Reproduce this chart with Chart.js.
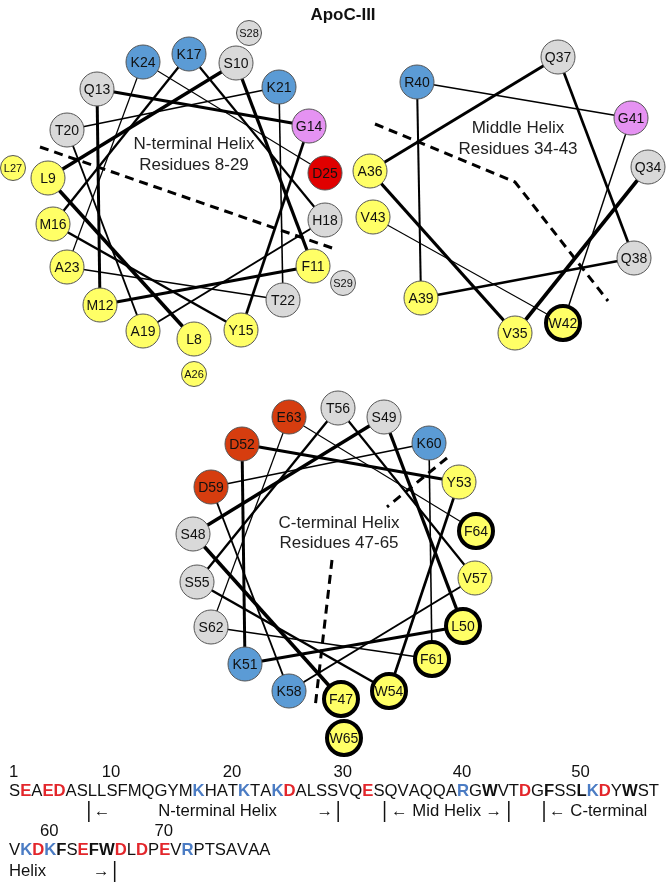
<html>
	<head>
		<meta charset="UTF-8">
		<title>ApoC-III helical wheels</title>
		<script src="https://cdn.jsdelivr.net/npm/chart.js@4.4.1/dist/chart.umd.min.js"></script>
		<style>
			body { margin: 0; background: #ffffff; }
			#wrap { width: 667px; height: 884px; position: relative; }
		</style>
	</head>
	<body>
		<div id="wrap"><canvas id="myChart"></canvas></div>
		<script type="text/javascript">

			// ---- data ----
			// N-terminal helix, residues 8-25 on the wheel, 26-29 on the outer ring
			var nHelixResidues = ['L8','L9','S10','F11','M12','Q13','G14','Y15','M16','K17','H18','A19','T20','K21','T22','A23','K24','D25'];
			var nHelixX = [194, 48, 236, 313, 100, 97, 309, 241, 53, 189, 325, 143, 67, 279, 283, 67, 143, 325];
			var nHelixY = [339, 178, 63, 266, 305, 89, 126, 330, 224, 54, 220, 331, 130, 87, 300, 267, 62, 173];
			var nOuterResidues = ['A26','L27','S28','S29'];
			var nOuterX = [194, 13, 249, 343];
			var nOuterY = [374, 168, 33, 283];
			var nDividerX = [40, 335];
			var nDividerY = [147, 249];

			// middle helix, residues 34-43
			var midHelixResidues = ['Q34','V35','A36','Q37','Q38','A39','R40','G41','W42','V43'];
			var midHelixX = [648, 515, 370, 558, 634, 421, 417, 631, 563, 373];
			var midHelixY = [167, 333, 171, 57, 258, 298, 82, 118, 323, 217];
			var midDividerX = [375, 515, 608];
			var midDividerY = [124, 182, 301];

			// C-terminal helix, residues 47-64 on the wheel, 65 on the outer ring
			var cHelixResidues = ['F47','S48','S49','L50','K51','D52','Y53','W54','S55','T56','V57','K58','D59','K60','F61','S62','E63','F64'];
			var cHelixX = [341, 193, 384, 463, 245, 242, 459, 389, 197, 338, 475, 289, 211, 429, 432, 211, 289, 476];
			var cHelixY = [699, 534, 417, 626, 664, 444, 482, 691, 582, 408, 578, 691, 487, 443, 659, 627, 417, 531];
			var cOuterResidues = ['W65'];
			var cOuterX = [344];
			var cOuterY = [738];
			var cDividerAX = [447, 387];
			var cDividerAY = [458, 507];
			var cDividerBX = [332, 315];
			var cDividerBY = [560, 708];

			// residues outlined in bold (hydrophobic face)
			var highlighted = [42, 47, 50, 54, 61, 64, 65];

			// full sequence, two printed lines
			var seqLine1 = 'SEAEDASLLSFMQGYMKHATKTAKDALSSVQESQVAQQARGWVTDGFSSLKDYWST';
			var seqLine2 = 'VKDKFSEFWDLDPEVRPTSAVAA';
			var seqNumbers = [1, 10, 20, 30, 40, 50, 60, 70];

			// ---- styles ----
			var fontFamily = '"Liberation Sans", Arial, sans-serif';
			var colours = {
				hydrophobic: '#ffff66',
				basic: '#5b9bd5',
				polar: '#d9d9d9',
				glycine: '#e592f2'
			};

			function residueNumber(name) {
				return parseInt(name.slice(1), 10);
			}

			function residueColour(name, acidicColour) {
				var aa = name.charAt(0);
				if ('DE'.indexOf(aa) >= 0) return acidicColour;
				if ('KR'.indexOf(aa) >= 0) return colours.basic;
				if (aa === 'G') return colours.glycine;
				if ('ALVMFWYI'.indexOf(aa) >= 0) return colours.hydrophobic;
				return colours.polar;
			}

			function points(xs, ys) {
				var out = [];
				for (var i = 0; i < xs.length; i++) {
					out.push({x: xs[i], y: ys[i]});
				}
				return out;
			}

			function wheelDataset(names, xs, ys, acidicColour, connected, radius, fontSize) {
				var n = names.length;
				return {
					residues: names,
					labelSize: fontSize,
					data: points(xs, ys),
					showLine: connected,
					borderColor: '#000000',
					borderWidth: 2,
					segment: {
						borderWidth: function(ctx) {
							var step = 2.5 / Math.max(1, n - 2);
							return Math.max(1, 3.6 - step * ctx.p0DataIndex);
						}
					},
					pointRadius: radius,
					pointHoverRadius: radius,
					pointBackgroundColor: names.map(function(r) { return residueColour(r, acidicColour); }),
					pointBorderColor: names.map(function(r) {
						return highlighted.indexOf(residueNumber(r)) >= 0 ? '#000000' : '#555555';
					}),
					pointBorderWidth: names.map(function(r) {
						return highlighted.indexOf(residueNumber(r)) >= 0 ? 4 : 1;
					})
				};
			}

			function dividerDataset(xs, ys) {
				return {
					data: points(xs, ys),
					showLine: true,
					borderColor: '#000000',
					borderWidth: 3,
					borderDash: [9, 6],
					pointRadius: 0
				};
			}

			// labels inside circles, titles and the sequence below
			var textPlugin = {
				id: 'wheelText',
				afterDatasetsDraw: function(chart) {
					var ctx = chart.ctx;
					ctx.save();
					ctx.textAlign = 'center';
					ctx.textBaseline = 'middle';
					ctx.fillStyle = '#111111';
					chart.data.datasets.forEach(function(ds, i) {
						if (!ds.residues) return;
						var meta = chart.getDatasetMeta(i);
						ctx.font = ds.labelSize + 'px ' + fontFamily;
						meta.data.forEach(function(pt, j) {
							ctx.fillText(ds.residues[j], pt.x, pt.y + 1);
						});
					});

					var xs = chart.scales.x, ys = chart.scales.y;
					function at(text, x, y, font, colour) {
						ctx.font = font;
						ctx.fillStyle = colour;
						ctx.fillText(text, xs.getPixelForValue(x), ys.getPixelForValue(y));
					}
					at('ApoC-III', 343, 15, 'bold 17px ' + fontFamily, '#111111');
					at('N-terminal Helix', 194, 144, '17px ' + fontFamily, '#222222');
					at('Residues 8-29', 194, 165, '17px ' + fontFamily, '#222222');
					at('Middle Helix', 518, 128, '17px ' + fontFamily, '#222222');
					at('Residues 34-43', 518, 149, '17px ' + fontFamily, '#222222');
					at('C-terminal Helix', 339, 523, '17px ' + fontFamily, '#222222');
					at('Residues 47-65', 339, 543, '17px ' + fontFamily, '#222222');

					drawSequence(ctx);
					ctx.restore();
				}
			};

			function drawSequence(ctx) {
				var size = 16.7;
				var left = 9;
				var pos = {};   // residue number -> [start, end, rowY]
				function line(str, firstNum, y) {
					var x = left;
					ctx.textAlign = 'left';
					ctx.textBaseline = 'middle';
					for (var i = 0; i < str.length; i++) {
						var aa = str.charAt(i);
						var num = firstNum + i;
						var colour = '#111111';
						var bold = false;
						if ('DE'.indexOf(aa) >= 0) { colour = '#e3262b'; bold = true; }
						else if ('KR'.indexOf(aa) >= 0) { colour = '#4b7cc4'; bold = true; }
						else if (highlighted.indexOf(num) >= 0) { bold = true; }
						ctx.font = (bold ? 'bold ' : '') + size + 'px ' + fontFamily;
						ctx.fillStyle = colour;
						ctx.fillText(aa, x, y);
						var w = ctx.measureText(aa).width;
						pos[num] = [x, x + w, y];
						x += w;
					}
				}
				line(seqLine1, 1, 791);
				line(seqLine2, 1 + seqLine1.length, 850);

				ctx.font = size + 'px ' + fontFamily;
				ctx.fillStyle = '#111111';
				ctx.textAlign = 'center';
				seqNumbers.forEach(function(n) {
					var p = pos[n];
					ctx.fillText(String(n), (p[0] + p[1]) / 2 - 1, p[2] - 19);
				});

				function bar(x, y) {
					ctx.strokeStyle = '#111111';
					ctx.lineWidth = 1.5;
					ctx.beginPath();
					ctx.moveTo(x, y - 10);
					ctx.lineTo(x, y + 11);
					ctx.stroke();
				}
				var rowA = 811, rowB = 871;
				ctx.font = size + 'px ' + fontFamily;
				// N-terminal helix 8-29
				var s = pos[8][0] + 1, e = pos[29][1];
				bar(s, rowA); bar(e, rowA);
				ctx.textAlign = 'left'; ctx.fillText('\u2190', s + 5, rowA);
				ctx.textAlign = 'right'; ctx.fillText('\u2192', e - 5, rowA);
				ctx.textAlign = 'center'; ctx.fillText('N-terminal Helix', (s + e) / 2 + 4, rowA);
				// middle helix 34-43
				s = pos[34][0]; e = pos[43][1];
				bar(s, rowA); bar(e, rowA);
				ctx.textAlign = 'center'; ctx.fillText('\u2190 Mid Helix \u2192', (s + e) / 2, rowA);
				// C-terminal helix 47-65
				s = pos[47][0]; e = pos[65][1];
				bar(s, rowA);
				ctx.textAlign = 'left'; ctx.fillText('\u2190 C-terminal', s + 5, rowA);
				ctx.fillText('Helix', left, rowB);
				bar(e, rowB);
				ctx.textAlign = 'right'; ctx.fillText('\u2192', e - 5, rowB);
			}

			var ctx = document.getElementById('myChart').getContext('2d');
			var myChart = new Chart(ctx, {
				type: 'scatter',
				data: {
					datasets: [
						wheelDataset(nHelixResidues, nHelixX, nHelixY, '#e00000', true, 17, 14),
						wheelDataset(nOuterResidues, nOuterX, nOuterY, '#e00000', false, 12.5, 11),
						wheelDataset(midHelixResidues, midHelixX, midHelixY, '#e00000', true, 17, 14),
						wheelDataset(cHelixResidues, cHelixX, cHelixY, '#d63d0f', true, 17, 14),
						wheelDataset(cOuterResidues, cOuterX, cOuterY, '#d63d0f', false, 17, 14),
						dividerDataset(nDividerX, nDividerY),
						dividerDataset(midDividerX, midDividerY),
						dividerDataset(cDividerAX, cDividerAY),
						dividerDataset(cDividerBX, cDividerBY)
					]
				},
				options: {
					responsive: true,
					maintainAspectRatio: false,
					animation: false,
					layout: { padding: 0, autoPadding: false },
					plugins: { legend: { display: false }, tooltip: { enabled: false } },
					scales: {
						x: { type: 'linear', min: 0, max: 667, display: false },
						y: { type: 'linear', min: 0, max: 884, reverse: true, display: false }
					}
				},
				plugins: [textPlugin]
			});
		</script>
	</body>
</html>
